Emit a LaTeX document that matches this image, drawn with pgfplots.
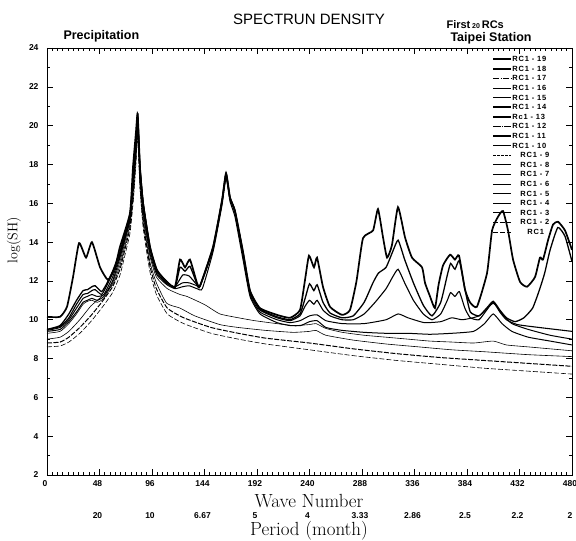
\documentclass[border=0pt]{standalone}
\usepackage{pgfplots}
\pgfplotsset{compat=1.18}
\usepackage{fontspec}
\setsansfont{Liberation Sans}
\newfontfamily\legfont[LetterSpace=10]{Liberation Sans}
\begin{document}
\begin{tikzpicture}
\useasboundingbox (-47pt,-66pt) rectangle (529pt,475pt);
\begin{axis}[
  at={(0,0)}, anchor=south west, scale only axis,
  width=525pt, height=427pt,
  xmin=0, xmax=480, ymin=2, ymax=24,
  xtick={0,48,...,480}, minor x tick num=9,
  ytick={2,4,...,24}, minor y tick num=1,
  tick align=inside, major tick length=6pt, minor tick length=3pt,
  tick style={black, line width=0.6pt},
  axis line style={line width=0.9pt},
  /pgf/number format/assume math mode=true,
  ticklabel style={font=\sffamily\bfseries\fontsize{8.5}{9}\selectfont},
  xticklabel style={yshift=-2pt, xshift=-2pt},
  yticklabel style={xshift=-5pt},
  every axis plot/.append style={smooth, tension=0.3},
  legend style={draw=none, fill=none, at={(1,1)}, anchor=north east,
    xshift=-22pt, yshift=-7pt, font=\legfont\bfseries\fontsize{7.5}{7.5}\selectfont,
    row sep=1.6pt, inner sep=0pt,
    nodes={inner sep=0.5pt, text height=6pt, text depth=1pt}},
  legend cell align=left,
  legend image code/.code={\draw[#1, sharp plot] (0pt,0pt) -- (18pt,0pt);},
]
% RC1-19 (top)
\addplot[black, line width=1.7pt] coordinates {
(0,10.15)(11.9,10.15)(18.3,10.67)(23.8,12.2)(29.3,13.95)(35.7,13.2)(41.1,14.0)(48.5,12.7)(55.8,12.05)(62.2,12.7)(66.7,13.75)(75.9,15.5)(78.6,17.85)(81.4,19.7)(82.9,20.6)(85.0,17.85)(87.8,16.0)(94.2,13.75)(100.6,12.55)(109.7,11.95)(117.0,11.7)(121.6,13.1)(126.2,12.7)(130.7,13.1)(137.1,11.9)(139.9,11.75)(151.8,13.75)(160.0,16.15)(163.7,17.55)(167.3,16.3)(171.9,15.6)(179.2,13.5)(185.6,11.5)(194.7,10.6)(210.3,10.25)(222.2,10.1)(231.3,10.5)(235.9,12.05)(239.5,13.3)(244.1,12.7)(246.9,13.2)(252.3,11.7)(258.7,10.67)(269.7,10.25)(277.0,10.5)(283,12.0)(288.9,14.2)(298.1,14.6)(302.6,15.7)(307.2,14.25)(310.9,13.2)(315.4,13.85)(320.9,15.8)(327.3,14.25)(333.7,13.2)(342.9,12.7)(345.6,11.9)(350.2,11.2)(354.7,10.6)(358,11.8)(362.1,12.8)(368.5,13.35)(373.0,13.1)(376.7,13.3)(382.2,11.55)(386.7,10.9)(393.1,10.67)(402.3,12.4)(406.9,14.6)(412.3,15.3)(416.9,15.6)(421.5,14.6)(426.1,13.1)(432.5,11.95)(438.9,11.7)(446.2,12.2)(450.7,13.2)(453.5,13.1)(458.1,14.1)(462.6,14.9)(467.2,15.05)(473.6,14.6)(480,13.6)};
\addlegendentry{RC1 - 19}
\addlegendimage{black, line width=1.5pt}\addlegendentry{RC1 - 18}
\addlegendimage{black, line width=1pt, dash pattern=on 6pt off 1.5pt on 1pt off 1.5pt}\addlegendentry{RC1 - 17}
\addlegendimage{black, line width=0.5pt}\addlegendentry{RC1 - 16}
% RC1-15
\addplot[black, line width=1.3pt] coordinates {
(0,9.5)(12,9.7)(20,10.3)(27,11.0)(33,11.5)(37,11.55)(41,11.7)(44,11.75)(50,11.45)(55,11.9)(60,12.5)(66.7,13.5)(72,14.6)(76,15.5)(79,17.6)(81.5,19.5)(82.9,20.6)(85,17.9)(88,16.0)(94.2,13.75)(100.6,12.55)(109.7,11.95)(117,11.65)(121.6,12.7)(126.2,12.5)(130.7,12.75)(137.1,11.85)(139.9,11.75)(151.8,13.75)(160,16.15)(163.7,17.55)(167.3,16.3)(171.9,15.6)(179.2,13.5)(185.6,11.5)(194.7,10.55)(210.3,10.15)(222.2,10.0)(231.3,10.3)(236,11.1)(240,11.85)(244,11.5)(247,11.8)(252.3,10.9)(258.7,10.35)(269.7,10.1)(280,10.2)(290,10.9)(298,11.9)(303,12.4)(310,12.7)(316,13.5)(321,14.1)(327,13.1)(335,11.9)(344,10.75)(352,10.2)(360,10.9)(366,12.3)(369,12.9)(373,12.6)(377,13.05)(382,11.6)(387,10.4)(395,10.2)(402,10.6)(408,10.95)(414,10.5)(420,10.1)(428,9.9)(436,10.1)(444,10.6)(450,11.5)(455,12.4)(460,13.6)(467,14.75)(473.6,14.3)(480,13.0)};
\addlegendentry{RC1 - 15}
\addlegendimage{black, line width=1.5pt}\addlegendentry{RC1 - 14}
\addlegendimage{black, line width=1.5pt}\addlegendentry{Rc1 - 13}
\addlegendimage{black, line width=0.5pt, dash pattern=on 8pt off 1pt on 1pt off 1pt}\addlegendentry{RC1 - 12}
% RC1-11
\addplot[black, line width=1.1pt] coordinates {
(0,9.5)(12,9.65)(20,10.1)(27,10.8)(33,11.3)(37,11.35)(41,11.5)(44,11.55)(50,11.3)(55,11.8)(60,12.4)(66.7,13.4)(72,14.5)(76,15.4)(79,17.5)(81.5,19.4)(82.9,20.5)(85,17.9)(88,16.0)(94.2,13.7)(100.6,12.5)(109.7,11.9)(117,11.7)(124,12.3)(130,12.25)(137.1,11.8)(139.9,11.75)(151.8,13.7)(160,16.1)(163.7,17.5)(167.3,16.3)(171.9,15.6)(179.2,13.4)(185.6,11.4)(194.7,10.5)(210.3,10.1)(222.2,9.95)(231.3,10.2)(236,10.7)(240,11.0)(244,10.8)(247,11.0)(252.3,10.5)(258.7,10.2)(269.7,10.0)(280,10.0)(290,10.3)(300,10.9)(310,11.6)(316,12.2)(321,12.6)(327,11.9)(335,11.0)(344,10.3)(352,10.0)(360,10.3)(366,11.0)(369,11.4)(373,11.2)(377,11.45)(382,10.6)(387,10.1)(395,10.0)(402,10.5)(408,10.9)(414,10.4)(420,10.0)(430,9.75)(450,9.6)(480,9.4)};
\addlegendentry{RC1 - 11}
\addlegendimage{black, line width=1.5pt}\addlegendentry{RC1 - 10}
\addlegendimage{black, line width=0.8pt, dash pattern=on 2.5pt off 1.5pt}\addlegendentry{\hspace{8pt}RC1 - 9}
% RC1-8
\addplot[black, line width=1.0pt] coordinates {
(0,9.45)(12,9.6)(20,10.0)(27,10.6)(33,11.1)(37,11.2)(41,11.3)(46,11.2)(52,11.3)(60,12.2)(66.7,13.3)(72,14.4)(76,15.3)(79,17.3)(81.5,19.2)(82.9,20.4)(85,17.8)(88,15.9)(94.2,13.6)(100.6,12.4)(109.7,11.85)(117,11.7)(124,11.9)(130,11.9)(137.1,11.75)(139.9,11.7)(151.8,13.6)(160,16.0)(163.7,17.4)(167.3,16.2)(171.9,15.5)(179.2,13.3)(185.6,11.3)(194.7,10.4)(210.3,10.0)(222.2,9.85)(231.3,9.95)(240,10.2)(247,10.25)(255,9.95)(270,9.8)(290,9.8)(310,10.0)(321,10.3)(330,10.1)(345,9.85)(360,9.9)(370,10.1)(380,10.0)(395,10.2)(408,10.85)(416,10.3)(425,9.8)(440,9.5)(460,9.2)(480,9.0)};
\addlegendentry{\hspace{8pt}RC1 - 8}
\addlegendimage{black, line width=0.5pt}\addlegendentry{\hspace{8pt}RC1 - 7}
\addlegendimage{black, line width=0.5pt}\addlegendentry{\hspace{8pt}RC1 - 6}
% RC1-5
\addplot[black, line width=1.0pt] coordinates {
(0,9.4)(12,9.5)(20,9.9)(27,10.4)(33,10.9)(37,11.0)(41,11.1)(46,11.0)(52,11.2)(60,12.0)(66.7,13.2)(72,14.3)(76,15.2)(79,17.2)(81.5,19.0)(82.9,20.3)(85,17.6)(88,15.6)(94.2,13.4)(100.6,12.3)(109.7,11.8)(117,11.6)(124,11.7)(130,11.75)(137.1,11.6)(142,11.6)(151.8,13.5)(160,15.9)(163.7,17.3)(167.3,16.1)(171.9,15.3)(179.2,13.1)(185.6,11.2)(194.7,10.3)(210.3,9.85)(222.2,9.7)(232,9.7)(240,9.9)(247,9.95)(255,9.6)(270,9.45)(290,9.35)(310,9.3)(330,9.3)(350,9.25)(370,9.3)(390,9.4)(400,9.8)(408,10.3)(416,9.8)(425,9.4)(440,9.1)(460,8.9)(480,8.7)};
\addlegendentry{\hspace{8pt}RC1 - 5}
% RC1-4
\addplot[black, line width=0.6pt] coordinates {
(0,9.3)(12,9.4)(20,9.8)(27,10.3)(33,10.8)(37,10.95)(41,11.0)(46,10.9)(52,11.1)(60,11.9)(66.7,13.0)(72,14.2)(76,15.2)(79,17.0)(81.5,19.0)(82.9,20.2)(85,17.5)(88,15.4)(94,13.3)(100,12.2)(110,11.6)(121.6,11.3)(128,11.2)(137,10.97)(145,10.75)(158,10.3)(175,10.1)(190,9.95)(210,9.8)(225,9.7)(240,9.75)(246,9.8)(255,9.55)(270,9.35)(290,9.2)(310,9.1)(330,9.0)(350,8.9)(370,8.85)(390,8.8)(408,8.9)(420,8.7)(440,8.6)(460,8.5)(480,8.4)};
\addlegendentry{\hspace{8pt}RC1 - 4}
% RC1-3
\addplot[black, line width=0.6pt] coordinates {
(0,9.0)(12,9.1)(20,9.4)(30,10.0)(40,10.7)(50,11.2)(60,11.8)(66.7,12.8)(72,14.0)(76,15.0)(79,16.8)(81.5,18.8)(82.9,20.0)(85,17.3)(88,15.2)(94,13.0)(100,11.9)(109.4,10.85)(121.6,10.6)(135,10.2)(158,9.75)(175,9.6)(200,9.45)(225,9.35)(240,9.4)(246,9.45)(255,9.2)(280,8.95)(310,8.75)(340,8.6)(370,8.45)(400,8.35)(440,8.2)(480,8.1)};
\addlegendentry{\hspace{8pt}RC1 - 3}
% RC1-2
\addplot[black, line width=1.0pt, dash pattern=on 5pt off 1.5pt] coordinates {
(0,8.8)(12,8.85)(20,9.1)(30,9.6)(40,10.2)(50,10.9)(60,11.7)(66.7,12.6)(72,13.8)(76,14.8)(79,16.5)(81.5,18.5)(82.9,19.8)(85,17.0)(88,15.0)(94,12.8)(100,11.6)(110,10.6)(125,10.1)(150,9.6)(175,9.3)(200,9.05)(240,8.8)(280,8.5)(320,8.25)(360,8.05)(400,7.9)(440,7.75)(480,7.6)};
\addlegendentry{\hspace{8pt}RC1 - 2}
% RC1
\addplot[black, line width=0.6pt, dash pattern=on 5pt off 2pt] coordinates {
(0,8.6)(12,8.65)(20,8.85)(30,9.3)(40,9.9)(50,10.6)(60,11.4)(66.7,12.3)(72,13.5)(76,14.5)(79,16.2)(81.5,18.2)(82.9,19.5)(85,16.8)(88,14.7)(94,12.5)(100,11.3)(110,10.3)(125,9.8)(150,9.3)(175,9.0)(200,8.75)(240,8.45)(280,8.15)(320,7.9)(360,7.7)(400,7.5)(440,7.35)(480,7.2)};
\addlegendentry{\hspace{15pt}RC1}
\end{axis}
% texts
\node[font=\sffamily\fontsize{15}{15}\selectfont] at (262pt,456pt) {SPECTRUN DENSITY};
\node[font=\sffamily\bfseries\fontsize{12.5}{12.5}\selectfont, anchor=west] at (13pt,439pt) {Precipitation};
\node[font=\sffamily\bfseries\fontsize{11}{11}\selectfont, anchor=west] at (396pt,450pt) {First\,{\fontsize{7}{7}\selectfont 20}\,RCs};
\node[font=\sffamily\bfseries\fontsize{12.5}{12.5}\selectfont, anchor=west] at (400pt,437pt) {Taipei Station};
\node[font=\fontsize{19}{19}\selectfont] at (262pt,-26pt) {Wave Number};
\node[font=\fontsize{19}{19}\selectfont] at (262pt,-56pt) {Period (month)};
\node[font=\fontsize{14}{14}\selectfont, rotate=90] at (-33pt,235pt) {log(SH)};
\foreach \w/\p in {48/20, 96/10, 144/6.67, 192/5, 240/4, 288/3.33, 336/2.86, 384/2.5, 432/2.2, 480/2} {
  \node[font=\sffamily\bfseries\fontsize{8.5}{9}\selectfont] at ({\w/480*525pt-2pt},-41pt) {\p};
}
\end{tikzpicture}
\end{document}
